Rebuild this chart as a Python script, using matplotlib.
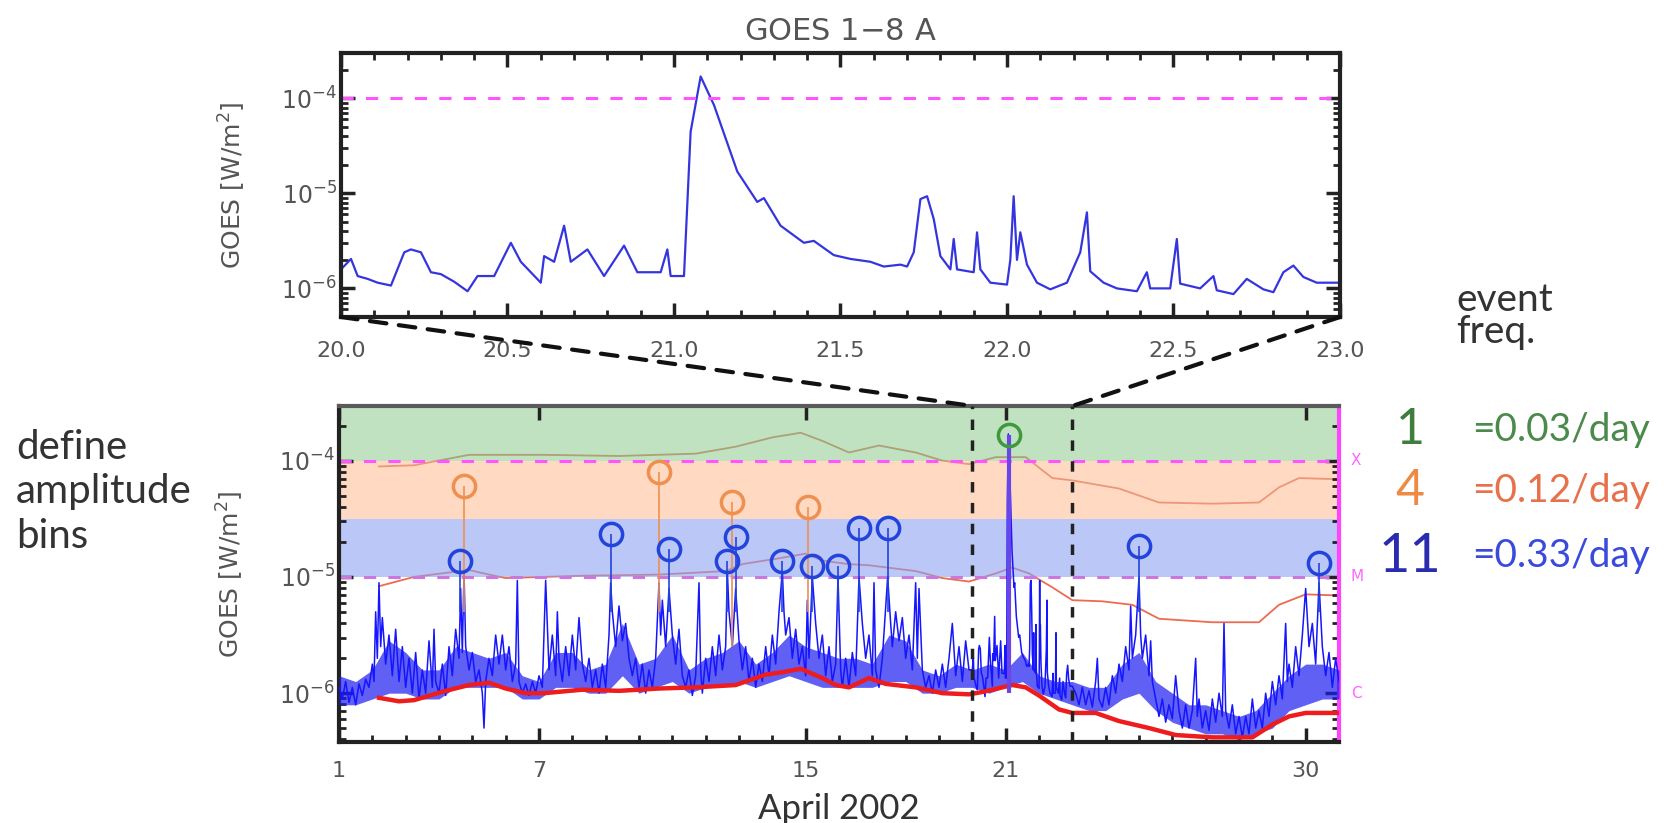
import numpy as np
import matplotlib
matplotlib.use('Agg')
import matplotlib.pyplot as plt
from matplotlib.patches import ConnectionPatch
from matplotlib.ticker import LogLocator, MultipleLocator, FixedLocator, NullFormatter

W, H = 1665, 823

# GOES 1-8 A flux, 20-23 April (log10 W/m^2)
zoom_day = [20.00, 20.03, 20.05, 20.08, 20.11, 20.15, 20.19, 20.21, 20.24, 20.27, 20.30, 20.34,
            20.38, 20.41, 20.46, 20.51, 20.54, 20.60, 20.61, 20.64, 20.67, 20.69, 20.74, 20.79,
            20.85, 20.89, 20.92, 20.96, 20.98, 20.99, 21.03, 21.05, 21.08, 21.12, 21.19, 21.25,
            21.27, 21.32, 21.39, 21.42, 21.48, 21.53, 21.59, 21.63, 21.68, 21.70, 21.72, 21.74,
            21.76, 21.78, 21.80, 21.83, 21.84, 21.85, 21.90, 21.91, 21.92, 21.95, 22.00, 22.01,
            22.02, 22.03, 22.04, 22.06, 22.09, 22.13, 22.18, 22.22, 22.24, 22.25, 22.29, 22.33,
            22.39, 22.42, 22.43, 22.49, 22.51, 22.52, 22.58, 22.62, 22.63, 22.68, 22.72, 22.77,
            22.80, 22.83, 22.86, 22.89, 22.93, 22.97, 23.00]
zoom_log = [-5.80, -5.69, -5.87, -5.90, -5.94, -5.97, -5.62, -5.59, -5.62, -5.83, -5.85, -5.93,
            -6.03, -5.87, -5.87, -5.52, -5.72, -5.94, -5.66, -5.72, -5.34, -5.72, -5.59, -5.87,
            -5.55, -5.83, -5.83, -5.83, -5.59, -5.87, -5.87, -4.35, -3.77, -4.07, -4.77, -5.09,
            -5.05, -5.34, -5.52, -5.50, -5.65, -5.69, -5.72, -5.77, -5.75, -5.77, -5.62, -5.06,
            -5.03, -5.27, -5.66, -5.80, -5.48, -5.80, -5.83, -5.41, -5.80, -5.94, -5.96, -5.70,
            -5.03, -5.70, -5.41, -5.75, -5.94, -6.01, -5.94, -5.62, -5.20, -5.82, -5.94, -6.00,
            -6.03, -5.83, -6.00, -6.00, -5.48, -5.95, -6.00, -5.87, -6.02, -6.06, -5.90, -6.01,
            -6.04, -5.83, -5.76, -5.88, -5.94, -5.94, -5.94]

# April 2002 light curve outside the zoom window (log10 W/m^2)
early_day = [1.0, 1.1, 1.2, 1.3, 1.4, 1.5, 1.6, 1.7, 1.8, 1.9, 2.0, 2.05, 2.1, 2.15, 2.2, 2.25,
             2.3, 2.4, 2.5, 2.6, 2.7, 2.8, 2.9, 3.0, 3.1, 3.2, 3.3, 3.4, 3.5, 3.6, 3.7, 3.8,
             3.85, 3.9, 4.0, 4.1, 4.2, 4.3, 4.4, 4.5, 4.6, 4.65, 4.7, 4.75, 4.8, 4.9, 5.0, 5.1,
             5.2, 5.3, 5.35, 5.4, 5.5, 5.6, 5.7, 5.8, 5.9, 6.0, 6.1, 6.2, 6.3, 6.35, 6.4, 6.5,
             6.6, 6.7, 6.8, 6.9, 7.0, 7.1, 7.2, 7.3, 7.4, 7.5, 7.55, 7.6, 7.7, 7.8, 7.9, 8.0,
             8.1, 8.2, 8.3, 8.4, 8.5, 8.6, 8.7, 8.8, 8.9, 9.0, 9.1, 9.15, 9.2, 9.3, 9.4, 9.5,
             9.6, 9.7, 9.8, 9.9, 10.0, 10.1, 10.2, 10.3, 10.4, 10.5, 10.6, 10.65, 10.7, 10.8,
             10.9, 11.0, 11.1, 11.2, 11.3, 11.4, 11.5, 11.6, 11.7, 11.8, 11.85, 11.9, 12.0,
             12.1, 12.2, 12.3, 12.4, 12.5, 12.6, 12.65, 12.7, 12.8, 12.9, 13.0, 13.1, 13.2,
             13.3, 13.4, 13.5, 13.6, 13.7, 13.8, 13.9, 14.0, 14.1, 14.2, 14.3, 14.35, 14.4,
             14.5, 14.6, 14.7, 14.8, 14.9, 15.0, 15.05, 15.1, 15.2, 15.3, 15.4, 15.5, 15.6,
             15.7, 15.8, 15.9, 15.97, 16.05, 16.1, 16.2, 16.3, 16.4, 16.5, 16.6, 16.7, 16.8,
             16.9, 17.0, 17.05, 17.1, 17.2, 17.3, 17.46, 17.55, 17.6, 17.7, 17.8, 17.9, 18.0,
             18.1, 18.2, 18.3, 18.35, 18.4, 18.5, 18.6, 18.7, 18.8, 18.9, 19.0, 19.1, 19.2,
             19.3, 19.4, 19.5, 19.6, 19.7, 19.8, 19.9]
early_log = [-5.95, -6.05, -5.90, -6.08, -5.95, -6.10, -5.92, -6.02, -5.88, -5.95, -5.75, -5.90,
             -5.30, -5.70, -5.05, -5.60, -5.35, -5.75, -5.50, -5.85, -5.45, -5.90, -5.60, -5.95,
             -5.70, -6.00, -5.65, -6.05, -5.80, -6.00, -5.55, -5.95, -5.45, -5.90, -6.00, -5.75,
             -6.02, -5.60, -5.85, -5.45, -5.70, -5.10, -5.65, -4.95, -5.60, -5.80, -5.65, -5.90,
             -5.80, -6.00, -6.30, -5.90, -5.70, -5.85, -5.50, -5.75, -5.50, -5.80, -5.60, -5.90,
             -5.75, -5.03, -5.90, -6.00, -5.92, -6.02, -5.90, -6.00, -5.85, -5.95, -5.03, -5.80,
             -5.50, -5.85, -5.30, -5.70, -5.90, -5.60, -5.85, -5.50, -5.80, -5.35, -5.75, -5.90,
             -5.70, -5.95, -5.80, -6.00, -5.75, -5.95, -5.50, -5.05, -5.30, -5.60, -5.25, -5.55,
             -5.40, -5.70, -5.85, -5.70, -5.95, -5.75, -6.00, -5.80, -5.95, -5.70, -5.05, -5.50,
             -5.20, -5.60, -5.10, -5.50, -5.75, -5.45, -5.85, -5.95, -5.80, -6.02, -5.85, -5.05,
             -5.80, -6.00, -5.70, -5.90, -5.60, -5.85, -5.50, -5.80, -5.60, -4.95, -5.30, -5.60,
             -5.10, -5.55, -5.80, -5.60, -5.90, -5.70, -5.95, -5.75, -5.90, -5.60, -5.85, -5.50,
             -5.75, -5.30, -4.95, -5.30, -5.50, -5.35, -5.70, -5.45, -5.75, -5.60, -5.85, -5.20,
             -5.70, -5.00, -5.40, -5.70, -5.50, -5.85, -5.60, -5.90, -5.75, -5.00, -5.80, -5.95,
             -5.70, -5.95, -5.65, -5.85, -5.00, -5.40, -5.70, -5.50, -5.85, -5.05, -5.80, -5.95,
             -5.70, -5.00, -5.40, -5.60, -5.30, -5.55, -5.35, -5.70, -5.50, -5.80, -5.05, -5.70,
             -5.10, -5.80, -5.95, -5.85, -6.00, -5.80, -5.95, -5.75, -5.95, -5.70, -5.40, -5.85,
             -5.60, -5.90, -5.55, -5.80]
late_day = [23.1, 23.2, 23.3, 23.4, 23.5, 23.6, 23.7, 23.75, 23.8, 23.9, 24.0, 24.1, 24.2, 24.3,
            24.4, 24.5, 24.6, 24.7, 24.75, 24.8, 24.9, 25.0, 25.05, 25.1, 25.2, 25.3, 25.35, 25.4,
            25.5, 25.6, 25.7, 25.8, 25.9, 26.0, 26.1, 26.2, 26.3, 26.4, 26.5, 26.6, 26.7, 26.75,
            26.8, 26.9, 27.0, 27.1, 27.2, 27.3, 27.4, 27.5, 27.55, 27.6, 27.7, 27.8, 27.9, 28.0,
            28.1, 28.2, 28.3, 28.4, 28.5, 28.6, 28.7, 28.8, 28.9, 29.0, 29.1, 29.2, 29.3, 29.4,
            29.45, 29.5, 29.6, 29.7, 29.8, 29.9, 30.0, 30.1, 30.2, 30.3, 30.4, 30.5, 30.6, 30.7,
            30.8, 30.9, 31.0]
late_log = [-6.00, -6.10, -5.95, -6.10, -5.98, -6.12, -5.90, -5.70, -6.05, -6.12, -5.95, -6.10,
            -5.85, -6.00, -5.75, -5.90, -5.60, -5.80, -5.25, -5.70, -5.50, -5.00, -5.50, -5.70,
            -5.50, -5.85, -5.55, -5.90, -6.05, -6.20, -6.05, -6.25, -6.10, -6.22, -5.85, -6.15,
            -6.30, -6.10, -6.30, -6.15, -5.70, -6.20, -6.05, -6.30, -6.15, -6.32, -6.05, -6.25,
            -6.00, -6.20, -5.40, -6.15, -6.30, -6.10, -6.35, -6.20, -6.38, -6.20, -6.35, -6.05,
            -6.30, -6.15, -6.30, -6.00, -6.20, -5.90, -6.10, -5.85, -6.05, -5.40, -5.90, -5.75,
            -5.95, -5.60, -5.85, -5.50, -5.10, -5.60, -5.40, -5.75, -5.05, -5.60, -5.85, -5.65,
            -5.95, -5.70, -5.90]

# lower / upper edge of the dense part of the light curve (log10)
env_day = [1.0, 1.5, 2.0, 2.5, 3.0, 3.5, 4.0, 4.5, 5.0, 5.5, 6.0, 6.5, 7.0, 7.5, 8.0, 8.5,
           9.0, 9.5, 10.0, 10.5, 11.0, 11.5, 12.0, 12.5, 13.0, 13.5, 14.0, 14.5, 15.0, 15.5,
           16.0, 16.5, 17.0, 17.5, 18.0, 18.5, 19.0, 19.5, 20.0, 20.5, 21.0, 21.5, 22.0, 22.5,
           23.0, 23.5, 24.0, 24.5, 25.0, 25.5, 26.0, 26.5, 27.0, 27.5, 28.0, 28.5, 29.0, 29.5,
           30.0, 30.5, 31.0]
env_lo = [-6.10, -6.10, -6.05, -6.00, -6.00, -6.05, -6.05, -5.95, -5.95, -5.95, -5.95, -6.05,
          -6.05, -5.95, -5.95, -6.00, -6.00, -5.85, -6.00, -5.95, -5.90, -6.00, -5.95, -5.95,
          -5.90, -5.95, -5.90, -5.85, -5.90, -5.95, -5.95, -5.95, -5.95, -5.90, -5.90, -6.00,
          -6.00, -5.95, -5.95, -6.00, -5.95, -5.90, -6.00, -6.05, -6.10, -6.15, -6.15, -6.05,
          -6.00, -6.15, -6.25, -6.30, -6.35, -6.35, -6.40, -6.35, -6.30, -6.15, -6.10, -6.05,
          -6.05]
env_hi = [-5.85, -5.90, -5.80, -5.55, -5.65, -5.80, -5.80, -5.60, -5.65, -5.70, -5.65, -5.85,
          -5.90, -5.65, -5.65, -5.80, -5.75, -5.40, -5.75, -5.70, -5.50, -5.80, -5.70, -5.65,
          -5.55, -5.75, -5.65, -5.50, -5.60, -5.65, -5.70, -5.70, -5.75, -5.50, -5.55, -5.80,
          -5.85, -5.75, -5.80, -5.75, -5.80, -5.65, -5.85, -5.90, -5.90, -5.95, -5.95, -5.75,
          -5.65, -5.90, -6.00, -6.10, -6.10, -6.15, -6.20, -6.15, -6.00, -5.85, -5.75, -5.75,
          -5.80]

# background level (thick red) and the two upper threshold curves (thin red)
bg_day = [2.2, 2.8, 3.25, 4.2, 4.9, 5.5, 6.0, 6.6, 7.15, 8.3, 9.4, 10.6, 11.7, 12.9, 13.8, 14.3,
          14.85, 15.5, 15.9, 16.3, 16.9, 17.4, 18.3, 19.1, 19.9, 20.3, 21.2, 21.6, 22.0, 22.6,
          23.0, 23.7, 24.4, 25.3, 26.1, 27.2, 28.4, 29.0, 29.5, 30.0, 31.0]
bg_log = [-6.04, -6.07, -6.06, -5.98, -5.93, -5.91, -5.96, -6.00, -6.00, -5.97, -5.98, -5.96,
          -5.95, -5.93, -5.84, -5.82, -5.79, -5.87, -5.93, -5.95, -5.87, -5.92, -5.95, -6.00,
          -6.01, -5.99, -5.93, -5.95, -6.02, -6.14, -6.17, -6.17, -6.24, -6.30, -6.36, -6.38,
          -6.38, -6.27, -6.20, -6.17, -6.17]
mid_day = [2.2, 3.25, 4.9, 5.5, 6.0, 8.3, 10.6, 12.6, 13.1, 14.2, 15.0, 15.5, 16.3, 16.9, 18.3,
           19.1, 19.9, 20.7, 21.2, 21.7, 22.4, 23.0, 23.9, 24.8, 25.6, 27.2, 28.6, 29.2, 30.0, 31.0]
mid_log = [-5.08, -5.00, -4.94, -4.98, -5.01, -4.99, -4.98, -4.95, -4.89, -4.84, -4.80, -4.86,
           -4.89, -4.90, -4.95, -5.01, -5.04, -4.97, -4.92, -4.97, -5.09, -5.20, -5.21, -5.24,
           -5.36, -5.39, -5.39, -5.24, -5.15, -5.16]
top_day = [2.2, 3.25, 4.9, 7.15, 9.4, 11.7, 12.9, 14.0, 14.85, 15.5, 16.3, 17.2, 18.3, 19.1,
           19.9, 20.7, 21.6, 22.4, 23.0, 24.4, 25.6, 27.2, 28.6, 29.2, 29.8, 31.0]
top_log = [-4.05, -4.04, -3.95, -3.95, -3.96, -3.94, -3.88, -3.80, -3.76, -3.83, -3.93, -3.87,
           -3.93, -4.00, -4.03, -3.97, -3.97, -4.15, -4.17, -4.24, -4.36, -4.37, -4.36, -4.23,
           -4.15, -4.16]

# detected events: day, peak (log10), bin
ev_day = [4.63, 9.15, 10.9, 12.65, 12.9, 14.3, 15.2, 15.97, 16.6, 17.46, 25.0, 30.4,
          4.75, 10.6, 12.8, 15.06, 21.1]
ev_log = [-4.86, -4.63, -4.76, -4.86, -4.66, -4.86, -4.91, -4.91, -4.58, -4.58, -4.73, -4.88,
          -4.22, -4.10, -4.36, -4.40, -3.78]
ev_bin = ['M1'] * 12 + ['M3'] * 4 + ['X']

bin_counts = ['1', '4', '11']
bin_rates = ['=0.03/day', '=0.12/day', '=0.33/day']

c_green, c_orange, c_blue = '#3d9a3d', '#ee9050', '#2244dd'
ev_color = {'M1': c_blue, 'M3': c_orange, 'X': c_green}
grey = '#555555'

fig = plt.figure(figsize=(W / 100, H / 100), dpi=100)
ax1 = fig.add_axes([341 / W, 1 - 317 / H, 999 / W, 264 / H])
ax2 = fig.add_axes([339 / W, 1 - 742 / H, 1000 / W, 336 / H])


def style_log_axis(ax, xpad):
    ax.set_yscale('log')
    ax.yaxis.set_major_locator(LogLocator(base=10, numticks=10))
    ax.yaxis.set_minor_locator(LogLocator(base=10, subs=np.arange(2, 10), numticks=10))
    ax.yaxis.set_minor_formatter(NullFormatter())
    ax.tick_params(axis='both', which='major', direction='in', length=10, width=2.5,
                   colors='#222222', labelcolor=grey, top=True, right=True)
    ax.tick_params(axis='both', which='minor', direction='in', length=5, width=2,
                   colors='#222222', top=True, right=True)
    ax.tick_params(axis='y', labelsize=17, pad=3)
    ax.tick_params(axis='x', labelsize=16, pad=xpad)
    ax.set_ylabel('GOES [W/m$^2$]', color=grey, fontsize=18)
    ax.yaxis.set_label_coords(-0.093, 0.5)
    for s in ax.spines.values():
        s.set_linewidth(3)
        s.set_color('#222222')


# top panel: zoom on the X flare
zd = np.array(zoom_day)
zf = 10.0 ** np.array(zoom_log)
ax1.plot(zd, zf, color='#3535e0', lw=1.6)
ax1.axhline(1e-4, color='#ff55ff', lw=2.2, ls=(0, (4, 4)))
ax1.set_xlim(20.0, 23.0)
ax1.set_ylim(5e-7, 3e-4)
style_log_axis(ax1, 17)
ax1.xaxis.set_major_locator(MultipleLocator(0.5))
ax1.xaxis.set_minor_locator(MultipleLocator(0.1))
ax1.xaxis.set_major_formatter(lambda v, p: f'{v:.1f}')
ax1.set_title('GOES 1$-$8 A', color=grey, fontsize=22, pad=9)

# bottom panel: whole month
days = np.array(early_day + zoom_day + late_day)
flux = 10.0 ** np.array(early_log + zoom_log + late_log)
ylo, yhi = 10 ** -6.42, 10 ** -3.53
ax2.plot(top_day, 10.0 ** np.array(top_log), color='#d05a48', lw=1.3, zorder=1)
ax2.plot(mid_day, 10.0 ** np.array(mid_log), color='#ee6a50', lw=1.3, zorder=1)
# amplitude bins, translucent so the threshold curves show through
ax2.axhspan(1e-4, yhi, color='#98cf98', alpha=0.6, zorder=1.5, lw=0)
ax2.axhspan(10 ** -4.5, 1e-4, color='#ffc198', alpha=0.6, zorder=1.5, lw=0)
ax2.axhspan(1e-5, 10 ** -4.5, color='#8da2f2', alpha=0.6, zorder=1.5, lw=0)
ax2.axhline(1e-4, color='#ff55ff', lw=2.2, ls=(0, (4, 4)), zorder=2)
ax2.axhline(1e-5, color='#cc77dd', lw=2.2, ls=(0, (4, 4)), zorder=2)
ax2.fill_between(env_day, 10.0 ** np.array(env_lo), 10.0 ** np.array(env_hi),
                 color='#1c1cf0', alpha=0.7, lw=0, zorder=3)
ax2.plot(days, flux, color='#1515ff', lw=1.1, zorder=3)
ax2.plot(bg_day, 10.0 ** np.array(bg_log), color='#ee1c1c', lw=3.2, zorder=4)

for d, lg, b in zip(ev_day, ev_log, ev_bin):
    base = np.interp(d, days, flux)
    if b == 'X':
        ax2.vlines(d, 10 ** -6.0, 10 ** lg, color='#6a45e8', lw=3, zorder=5)
    else:
        ax2.vlines(d, min(base, 10 ** -5.3), 10 ** lg, color=ev_color[b], lw=1.2, zorder=5)
    ax2.plot(d, 10 ** lg, 'o', ms=16, mfc='none', mec=ev_color[b], mew=2.5, zorder=6)

ax2.axvline(20, color='#222222', lw=2.5, ls=(0, (3, 3)), zorder=6)
ax2.axvline(23, color='#222222', lw=2.5, ls=(0, (3, 3)), zorder=6)
ax2.set_xlim(1, 31)
ax2.set_ylim(ylo, yhi)
style_log_axis(ax2, 14)
ax2.xaxis.set_major_locator(FixedLocator([1, 7, 15, 21, 30]))
ax2.xaxis.set_minor_locator(MultipleLocator(1))
ax2.tick_params(axis='x', which='minor', top=False)
ax2.spines['top'].set_color('#5a5a5a')
ax2.spines['right'].set_color('#ff44ff')
ax2.set_xlabel('April 2002', fontsize=25, color='#333333', family='Lato', labelpad=8)
for lvl, cls in [(1e-4, 'X'), (1e-5, 'M'), (1e-6, 'C')]:
    ax2.text(1.012, lvl, cls, transform=ax2.get_yaxis_transform(), color='#ff66ff',
             fontsize=11, va='center', ha='left')

# dashed zoom connectors
for d in (20.0, 23.0):
    con = ConnectionPatch(xyA=(d, 5e-7), coordsA=ax1.transData, xyB=(d, yhi),
                          coordsB=ax2.transData, color='#111111', lw=3, ls=(0, (4, 3)))
    fig.add_artist(con)

# annotations
fig.text(16 / W, 1 - 492 / H, 'define\namplitude\nbins', color='#333333', va='center',
         linespacing=1.25, family='Lato', fontsize=29)
fig.text(1456 / W, 1 - 316 / H, 'event\nfreq.', color='#333333', va='center',
         linespacing=0.85, family='Lato', fontsize=28)
rows_y = [430, 491, 556]
cnt_col = ['#3d7d3d', '#ee8a44', '#2b2bb0']
rate_col = ['#4a8a4a', '#e8704a', '#3a4adc']
cnt_size = [36, 36, 39]
for y, n, r, cc, rc, cs in zip(rows_y, bin_counts, bin_rates, cnt_col, rate_col, cnt_size):
    fig.text(1410 / W, 1 - y / H, n, color=cc, family='Lato', fontsize=cs,
             ha='center', va='center')
    fig.text(1472 / W, 1 - y / H, r, color=rc, family='Lato', fontsize=28,
             ha='left', va='center')

fig.savefig('out.png', dpi=100)
